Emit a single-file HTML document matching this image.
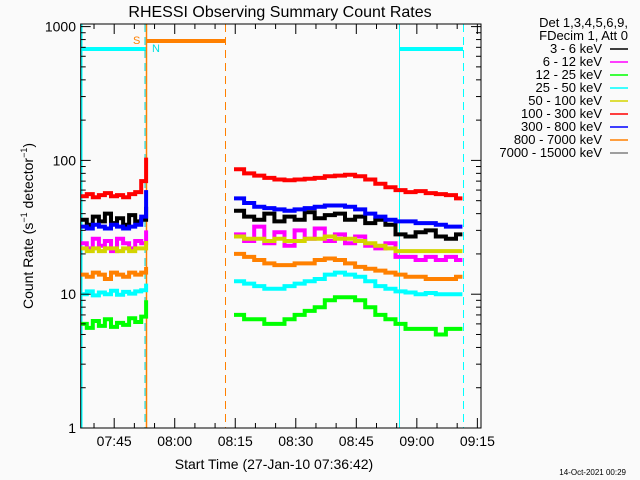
<!DOCTYPE html>
<html><head><meta charset="utf-8"><style>
body{margin:0;background:#fafafa}
svg{display:block;font-family:"Liberation Sans",sans-serif}
</style></head><body>
<svg id="c" width="640" height="480" viewBox="0 0 640 480">
<rect width="640" height="480" fill="#fafafa"/>
<text x="280" y="17" font-size="16" text-anchor="middle">RHESSI Observing Summary Count Rates</text>
<text x="274" y="469" font-size="14" text-anchor="middle">Start Time (27-Jan-10 07:36:42)</text>
<text transform="translate(33,226) rotate(-90)" font-size="14" text-anchor="middle">Count Rate (s<tspan font-size="9" dy="-6">−1</tspan><tspan dy="6"> detector</tspan><tspan font-size="9" dy="-6">−1</tspan><tspan dy="6">)</tspan></text>
<text x="626" y="475" font-size="8" text-anchor="end">14-Oct-2021 00:29</text>
<g id="plot"></g><g id="axes"></g><g id="legend"></g>
</svg>
<script>
const seg1T=[0,1.5,3,4.5,6,7.5,9,10.5,12,13.5,15,16.2];
const seg2T=[38,40.5,43,45.5,48,50.5,53,55.5,58,60.5,63,65.5,68,70.5,73,75.5,78,80.5,83,85.5,88,90.5,93];
const red1=[54,56,53,55,57,54,55,53,56,58,70,105];
const blue1=[32,31,33,32,31,33,32,31,32,33,38,60];
const black1=[36,33,38,35,40,34,37,33,39,35,36,45];
const mag1=[24,22,26,23,25,21,26,24,22,25,24,30];
const yel1=[22,21,22,21,22,22,21,22,21,22,22,25];
const org1=[14,13.5,14.5,14,13,14.5,14,13.5,14.5,14,14.5,16];
const cyan1=[10,10.5,9.8,10.3,10,10.6,9.9,10.4,10.1,10.5,10.7,12];
const green1=[6,5.6,6.3,5.8,6.5,5.7,6.1,5.9,6.6,6.2,6.8,9];
const red2=[86,80,77,74,72,71,72,73,74,76,77,78,76,72,67,63,60,58,59,57,56,55,52];
const blue2=[52,48,45,44,43,42,43,44,45,46,46,45,43,40,38,36,35,35,34,34,33,32,32];
const black2=[42,38,36,40,35,38,36,41,37,39,40,36,38,34,36,33,28,27,29,30,27,26,28];
const mag2=[28,25,32,24,29,23,30,26,31,25,28,24,27,23,22,24,19,19,18,19,18,19,18];
const yel2=[27,26,26,25,26,25,25,26,26,27,26,26,25,24,23,22,21,21,21,21,21,21,21];
const org2=[20,19,18,17,16.5,16.5,17,17,18,18.5,18,17,16,15.5,15,14.5,14,13.5,13.5,13,13,13,13.5];
const cyan2=[12.5,12,11.5,11,11,11.5,12,12.5,13,14,14.5,14,13.5,12.5,11.5,11,10.5,10.3,10,10.2,10,10,10];
const green2=[7,6.5,6.5,6,6,6.5,7,7.5,8,9,9.5,9.5,9,8,7,6.5,6,5.5,5.5,5.5,5,5.5,5.5];
const xTickLabels=["07:45","08:00","08:15","08:30","08:45","09:00","09:15"];
const xTickMinutes=[8.3,23.3,38.3,53.3,68.3,83.3,98.3];
const yTickLabels=["1","10","100","1000"];
const yTickValues=[1,10,100,1000];
const legendLabels=["3 - 6 keV","6 - 12 keV","12 - 25 keV","25 - 50 keV","50 - 100 keV","100 - 300 keV","300 - 800 keV","800 - 7000 keV","7000 - 15000 keV"];
const legendColors=["#000","#ff00ff","#00ff00","#00ffff","#d4d400","#ff0000","#0000ff","#ff8000","#808080"];

const X0=80.7,X1=481,Y0=428,Y1=24,TEND=99.2;
const x=t=>X0+t*(X1-X0)/TEND;
const y=v=>Y0-133.8*Math.log10(v);
const NS="http://www.w3.org/2000/svg";
function mk(tag,attrs,parent){const e=document.createElementNS(NS,tag);for(const k in attrs)e.setAttribute(k,attrs[k]);parent.appendChild(e);return e;}
const plot=document.getElementById('plot'),axes=document.getElementById('axes'),leg=document.getElementById('legend');

// instrument state lines
let e;
e=mk('line',{x1:81.5,y1:Y1,x2:81.5,y2:Y0,stroke:'#00ffff','stroke-width':2},plot);


e=mk('line',{x1:81,y1:49,x2:146,y2:49,stroke:'#00ffff','stroke-width':4},plot);


e=mk('line',{x1:399,y1:49,x2:463,y2:49,stroke:'#00ffff','stroke-width':4},plot);


e=mk('line',{x1:146,y1:41,x2:225,y2:41,stroke:'#ff8000','stroke-width':4},plot);


e=mk('line',{x1:145,y1:Y1,x2:145,y2:Y0,stroke:'#00d8d8','stroke-width':1,'stroke-dasharray':'8,5'},plot);


e=mk('line',{x1:146.5,y1:Y1,x2:146.5,y2:Y0,stroke:'#ff8000','stroke-width':1.5},plot);


e=mk('line',{x1:225.5,y1:Y1,x2:225.5,y2:Y0,stroke:'#ff8000','stroke-width':1,'stroke-dasharray':'8,5'},plot);


e=mk('line',{x1:399.5,y1:Y1,x2:399.5,y2:Y0,stroke:'#00ffff','stroke-width':1},plot);


e=mk('line',{x1:463.5,y1:Y1,x2:463.5,y2:Y0,stroke:'#00ffff','stroke-width':1,'stroke-dasharray':'8,5'},plot);


e=mk('text',{x:133,y:44,'font-size':11,fill:'#ff8000'},plot);e.textContent='S';


e=mk('text',{x:152,y:52,'font-size':11,fill:'#00e0e0'},plot);e.textContent='N';



// series
const series=[[black1,black2,'#000','series-3-6-kev'],[mag1,mag2,'#ff00ff','series-6-12-kev'],[green1,green2,'#00ff00','series-12-25-kev'],[cyan1,cyan2,'#00ffff','series-25-50-kev'],[yel1,yel2,'#d4d400','series-50-100-kev'],[org1,org2,'#ff8000','series-800-7000-kev'],[red1,red2,'#ff0000','series-100-300-kev'],[blue1,blue2,'#0000ff','series-300-800-kev']];
function stepPath(ts,vs,tEnd){let d='';for(let i=0;i<vs.length;i++){const t0=ts[i],t1=i+1<ts.length?ts[i+1]:tEnd;d+=(i?'L':'M')+x(t0).toFixed(1)+','+y(vs[i]).toFixed(1)+'L'+x(t1).toFixed(1)+','+y(vs[i]).toFixed(1);}return d;}
for(const s of series){
 e=mk('path',{d:stepPath(seg1T,s[0],16.2),fill:'none',stroke:s[2],'stroke-width':4},plot);
 
 
 e=mk('path',{d:stepPath(seg2T,s[1],94.6),fill:'none',stroke:s[2],'stroke-width':4},plot);
 
 
}

// axes frame
e=mk('rect',{x:X0,y:Y1,width:X1-X0,height:Y0-Y1,fill:'none',stroke:'#000','stroke-width':1},axes);


for(let m=0;m<=TEND;m+=5){const t=m+3.3;if(t>TEND)break;const major=xTickMinutes.some(v=>Math.abs(v-t)<0.01);const L=major?10:5;
 mk('line',{x1:x(t),y1:Y0,x2:x(t),y2:Y0-L,stroke:'#000'},axes);
 mk('line',{x1:x(t),y1:Y1,x2:x(t),y2:Y1+L,stroke:'#000'},axes);}
xTickLabels.forEach((l,i)=>{e=mk('text',{x:x(xTickMinutes[i]),y:446,'font-size':14,'text-anchor':'middle'},axes);e.textContent=l;
 
 });
for(let d=1;d<=1000;d*=10){for(let k=1;k<10;k++){const v=d*k;if(v>1080)break;const L=k==1?10:5;
 mk('line',{x1:X0,y1:y(v),x2:X0+L,y2:y(v),stroke:'#000'},axes);
 mk('line',{x1:X1,y1:y(v),x2:X1-L,y2:y(v),stroke:'#000'},axes);}}
yTickLabels.forEach((l,i)=>{e=mk('text',{x:76,y:y(yTickValues[i])+5,'font-size':14,'text-anchor':'end'},axes);e.textContent=l;
 
 });

// legend
e=mk('text',{x:628,y:27,'font-size':13,'text-anchor':'end'},leg);e.textContent='Det 1,3,4,5,6,9,';


e=mk('text',{x:628,y:40,'font-size':13,'text-anchor':'end'},leg);e.textContent='FDecim 1, Att 0';


legendLabels.forEach((l,i)=>{const yy=53+i*13;
 e=mk('text',{x:602,y:yy,'font-size':13,'text-anchor':'end'},leg);e.textContent=l;
 
 
 mk('line',{x1:610,y1:yy-4,x2:628,y2:yy-4,stroke:legendColors[i],'stroke-width':1.5},leg);});
</script>
</body></html>
